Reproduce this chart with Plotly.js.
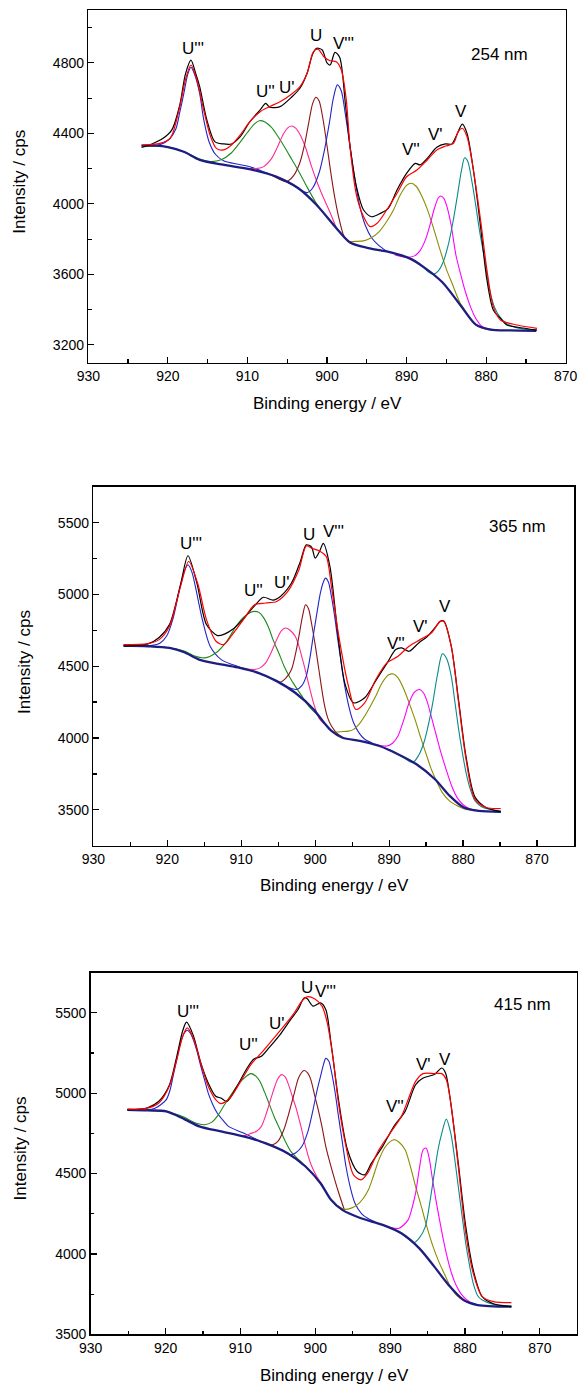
<!DOCTYPE html>
<html><head><meta charset="utf-8">
<script src="https://cdn.plot.ly/plotly-3.0.1.min.js"></script>
<style>html,body{margin:0;padding:0;background:#fff}</style>
</head><body><div id="chart" style="width:578px;height:1386px"></div>
<script>
// ---------- shared ----------
const peakNames = ["U'''", "U''", "U'", "U", "V'''", "V''", "V'", "V"];
const sampleNames = ["254 nm", "365 nm", "415 nm"];
const xTickVals = [930, 920, 910, 900, 890, 880, 870];

// ---------- 254 nm ----------
const e254_bg = [923.3, 921.5, 920, 918, 916, 913.3, 909.6, 906.4, 903.6, 901.3, 899, 897.1, 894.8, 892.5, 889.7, 887.8, 885.5, 883.2, 881.3, 879.5, 877, 873.7];
const i254_bg = [4330, 4330, 4322, 4296, 4250, 4224, 4196, 4155, 4089, 3994, 3872, 3781, 3749, 3730, 3692, 3640, 3555, 3423, 3315, 3287, 3282, 3280];
const e254_U3 = [923.3, 921.0, 919.8, 919.0, 918.5, 918.0, 917.5, 917.1, 916.6, 916.0, 915.5, 914.8, 914.0, 913.0, 911.8, 909.7, 907.6, 905.0, 903.5];
const i254_U3 = [4330, 4336, 4368, 4425, 4520, 4625, 4735, 4775, 4730, 4625, 4480, 4350, 4280, 4245, 4230, 4211, 4175, 4122, 4086];
const e254_U2 = [923.3, 920, 918, 916, 914.6, 913.3, 912.0, 911.0, 910.0, 909.2, 908.5, 907.8, 907.0, 906.2, 905.3, 904.4, 903.5, 902.5, 901.5, 901.0];
const i254_U2 = [4328, 4322, 4296, 4254, 4240, 4250, 4290, 4345, 4405, 4450, 4472, 4465, 4435, 4385, 4320, 4250, 4180, 4095, 4015, 3982];
const e254_U1 = [910.5, 909.0, 908.0, 907.0, 906.2, 905.5, 904.9, 904.4, 903.9, 903.3, 902.7, 902.0, 901.3, 900.5, 899.6, 898.8];
const i254_U1 = [4205, 4200, 4210, 4255, 4325, 4395, 4433, 4442, 4428, 4385, 4320, 4220, 4130, 4040, 3950, 3860];
const e254_U0 = [907.0, 906.0, 905.1, 904.2, 903.4, 902.8, 902.3, 901.8, 901.4, 901.0, 900.5, 900.0, 899.5, 899.0, 898.4, 897.8, 897.1];
const i254_U0 = [4165, 4140, 4126, 4160, 4235, 4340, 4460, 4570, 4605, 4585, 4480, 4330, 4170, 4030, 3900, 3810, 3781];
const e254_V3 = [905.0, 904.0, 903.2, 902.5, 901.8, 901.0, 900.3, 899.7, 899.2, 898.7, 898.2, 897.7, 897.1, 896.5, 895.9, 895.2, 894.4, 893.5, 892.5];
const i254_V3 = [4122, 4100, 4075, 4064, 4090, 4175, 4310, 4460, 4600, 4675, 4640, 4510, 4325, 4140, 3990, 3880, 3808, 3765, 3732];
const e254_V2 = [897.3, 896.4, 895.4, 894.5, 893.5, 892.5, 891.6, 890.8, 890.0, 889.4, 888.8, 888.2, 887.4, 886.6, 885.8, 885.0, 884.2, 883.3, 882.5, 881.5, 880.5, 879.5];
const i254_V2 = [3785, 3787, 3790, 3806, 3840, 3900, 3970, 4050, 4105, 4117, 4100, 4055, 3970, 3860, 3740, 3630, 3540, 3440, 3385, 3322, 3295, 3288];
const e254_V1 = [891.5, 890.0, 889.0, 888.3, 887.6, 887.0, 886.5, 886.0, 885.7, 885.3, 884.9, 884.4, 883.8, 883.2, 882.6, 882.0, 881.3, 880.5, 879.5, 878.5];
const i254_V1 = [3712, 3697, 3705, 3735, 3800, 3890, 3975, 4035, 4045, 4030, 3980, 3880, 3710, 3600, 3500, 3420, 3350, 3305, 3290, 3285];
const e254_V0 = [890.5, 889.0, 888.0, 887.2, 886.6, 886.0, 885.4, 884.8, 884.2, 883.6, 883.1, 882.7, 882.3, 881.8, 881.3, 880.8, 880.2, 879.6, 879.0, 878.3, 877.4, 876.2, 874.5];
const i254_V0 = [3705, 3680, 3645, 3612, 3602, 3620, 3670, 3760, 3890, 4050, 4190, 4262, 4240, 4130, 3990, 3840, 3690, 3520, 3420, 3360, 3320, 3298, 3286];
const e254_fit = [923.3, 921.0, 919.7, 918.5, 917.8, 917.1, 916.4, 915.5, 914.7, 913.9, 913.0, 912.0, 910.9, 909.7, 908.4, 907.2, 905.9, 904.6, 903.4, 902.5, 901.7, 901.1, 900.4, 899.6, 898.8, 898.2, 897.6, 897.1, 896.3, 895.4, 894.6, 893.7, 892.5, 891.2, 890.0, 888.7, 887.4, 886.2, 885.1, 884.1, 883.5, 883.0, 882.4, 881.6, 880.7, 879.9, 879.1, 878.2, 876.1, 873.6];
const i254_fit = [4334, 4343, 4372, 4552, 4703, 4788, 4712, 4533, 4391, 4315, 4306, 4334, 4391, 4466, 4523, 4552, 4580, 4618, 4665, 4741, 4864, 4877, 4835, 4812, 4805, 4760, 4600, 4320, 4050, 3927, 3871, 3890, 3965, 4060, 4154, 4192, 4249, 4306, 4328, 4343, 4410, 4429, 4381, 4192, 3908, 3625, 3417, 3341, 3313, 3294];
const e254_exp = [923.3, 922.0, 920.6, 919.5, 918.5, 917.8, 917.1, 916.5, 916.0, 915.1, 914.1, 913.0, 912.0, 910.9, 909.7, 908.4, 907.7, 907.2, 905.9, 904.4, 903.4, 902.5, 901.8, 901.3, 900.6, 900.0, 899.6, 899.0, 898.4, 897.7, 897.1, 896.3, 895.4, 894.4, 893.3, 892.3, 891.2, 890.0, 888.9, 888.3, 887.4, 886.2, 885.1, 884.3, 883.7, 883.0, 882.4, 881.6, 880.7, 879.9, 879.1, 878.2, 877.4, 876.0, 873.6];
const i254_exp = [4320, 4340, 4372, 4420, 4561, 4735, 4816, 4740, 4665, 4476, 4353, 4340, 4340, 4381, 4466, 4533, 4570, 4548, 4552, 4608, 4656, 4741, 4850, 4883, 4873, 4800, 4788, 4860, 4830, 4571, 4325, 4098, 3965, 3927, 3946, 3975, 4079, 4173, 4230, 4221, 4258, 4321, 4340, 4340, 4391, 4453, 4400, 4192, 3871, 3568, 3398, 3350, 3313, 3300, 3284];
const e254_lab = [916.9, 907.7, 905.0, 901.4, 897.9, 889.5, 886.35, 883.2];
const i254_lab = [4881, 4636, 4660, 4957, 4909, 4309, 4396, 4523];

// ---------- 365 nm ----------
const e365_bg = [925.9, 922.6, 919.7, 917.7, 915.7, 912.7, 910.2, 907.7, 905.2, 902.7, 900.2, 898.8, 897.8, 896.3, 893.8, 891.3, 888.8, 886.3, 883.8, 881.8, 879.9, 877.9, 874.9];
const i365_bg = [4644, 4639, 4627, 4597, 4546, 4512, 4488, 4454, 4396, 4315, 4199, 4106, 4049, 4002, 3979, 3944, 3887, 3817, 3713, 3597, 3516, 3493, 3486];
const e365_U3 = [925.9, 922.0, 921.0, 920.1, 919.2, 918.7, 918.2, 917.7, 917.2, 916.7, 916.2, 915.7, 915.2, 914.2, 912.7, 911.0, 909.5, 907.5];
const i365_U3 = [4644, 4645, 4660, 4708, 4835, 4950, 5067, 5160, 5206, 5160, 5056, 4930, 4813, 4639, 4546, 4508, 4482, 4450];
const e365_U2 = [925.9, 920, 917.7, 916.5, 914.9, 913.5, 912.0, 910.7, 909.7, 908.7, 908.2, 907.6, 907.0, 906.3, 905.7, 904.9, 904.2, 903.4, 902.7, 901.9, 901.2, 900.4, 899.6];
const i365_U2 = [4642, 4630, 4605, 4575, 4558, 4590, 4670, 4778, 4840, 4875, 4882, 4875, 4840, 4770, 4685, 4590, 4500, 4420, 4361, 4300, 4245, 4195, 4155];
const e365_U1 = [909.5, 908.2, 907.4, 906.7, 906.0, 905.2, 904.6, 904.0, 903.4, 902.7, 902.2, 901.7, 901.2, 900.7, 900.2, 899.5, 898.8];
const i365_U1 = [4482, 4477, 4490, 4523, 4590, 4685, 4745, 4766, 4750, 4708, 4640, 4546, 4445, 4338, 4240, 4140, 4100];
const e365_U0 = [906.5, 905.5, 904.7, 904.0, 903.2, 902.6, 902.2, 901.7, 901.3, 900.9, 900.5, 900.0, 899.5, 898.8, 898.3, 897.8, 897.0, 896.3];
const i365_U0 = [4425, 4405, 4389, 4415, 4477, 4600, 4708, 4850, 4928, 4900, 4801, 4650, 4477, 4245, 4140, 4083, 4030, 4005];
const e365_V3 = [904.5, 903.5, 902.5, 901.8, 901.2, 900.7, 900.2, 899.7, 899.3, 898.9, 898.6, 898.2, 897.8, 897.4, 897.0, 896.5, 896.0, 895.4, 894.8, 894.0, 893.3, 892.3];
const i365_V3 = [4380, 4350, 4338, 4365, 4431, 4560, 4731, 4890, 5009, 5085, 5113, 5085, 4986, 4860, 4708, 4530, 4361, 4210, 4106, 4030, 3991, 3965];
const e365_V2 = [897.5, 896.5, 895.5, 894.8, 894.0, 893.3, 892.5, 891.8, 891.0, 890.0, 889.4, 888.8, 888.0, 887.3, 886.5, 885.8, 885.0, 884.3, 883.5, 882.8, 881.8, 880.8, 879.8, 878.5];
const i365_V2 = [4040, 4044, 4048, 4060, 4100, 4153, 4225, 4292, 4380, 4442, 4445, 4419, 4340, 4245, 4130, 4014, 3890, 3783, 3690, 3620, 3560, 3528, 3505, 3493];
const e365_V1 = [891.8, 890.3, 889.5, 888.8, 888.0, 887.3, 886.6, 885.9, 885.3, 884.8, 884.2, 883.6, 883.0, 882.3, 881.5, 880.8, 880.0, 879.0, 878.0];
const i365_V1 = [3955, 3944, 3965, 4014, 4130, 4245, 4318, 4338, 4310, 4245, 4130, 4014, 3900, 3782, 3660, 3585, 3535, 3505, 3494];
const e365_V0 = [890.0, 888.8, 887.8, 886.8, 886.0, 885.3, 884.7, 884.1, 883.5, 882.8, 882.2, 881.6, 881.1, 880.6, 880.1, 879.6, 879.0, 878.4, 877.6, 876.9, 875.5, 874.9];
const i365_V0 = [3922, 3887, 3855, 3829, 3880, 3967, 4090, 4245, 4430, 4586, 4550, 4431, 4250, 4060, 3900, 3759, 3640, 3563, 3525, 3509, 3495, 3493];
const e365_fit = [925.9, 922.6, 921.1, 919.7, 918.2, 917.1, 915.9, 914.7, 913.4, 912.4, 911.2, 909.7, 908.2, 906.7, 905.2, 903.7, 902.2, 901.2, 900.5, 899.3, 898.5, 897.8, 896.8, 895.5, 894.5, 893.3, 891.8, 890.3, 888.8, 887.3, 885.8, 884.3, 883.1, 882.6, 881.6, 880.6, 879.6, 878.4, 876.9, 874.9];
const i365_fit = [4650, 4657, 4685, 4778, 5056, 5229, 5079, 4824, 4674, 4650, 4720, 4824, 4928, 4940, 4951, 5021, 5171, 5338, 5322, 5299, 5264, 5056, 4708, 4361, 4199, 4245, 4407, 4523, 4569, 4639, 4685, 4731, 4812, 4812, 4639, 4245, 3852, 3574, 3516, 3509];
const e365_exp = [925.9, 922.6, 921.1, 919.7, 918.2, 917.2, 916.0, 914.7, 913.2, 912.2, 911.2, 909.7, 908.2, 907.0, 905.7, 904.7, 903.2, 902.0, 901.2, 900.5, 900.0, 899.4, 898.9, 898.0, 897.0, 896.0, 894.8, 893.3, 891.8, 890.3, 889.1, 888.3, 887.3, 886.0, 884.8, 883.6, 883.1, 882.6, 881.6, 880.6, 879.6, 878.4, 876.9, 874.9];
const i365_exp = [4640, 4655, 4700, 4790, 5070, 5269, 5080, 4790, 4713, 4725, 4755, 4830, 4920, 4980, 4960, 4986, 5079, 5230, 5345, 5330, 5252, 5300, 5356, 5194, 4755, 4384, 4245, 4280, 4400, 4520, 4616, 4627, 4604, 4662, 4708, 4780, 4812, 4815, 4639, 4260, 3870, 3590, 3516, 3486];
const e365_lab = [916.8, 908.3, 904.5, 900.9, 897.5, 889.1, 885.8, 882.4];
const i365_lab = [5352, 5028, 5086, 5414, 5437, 4657, 4778, 4917];

// ---------- 415 nm ----------
const e415_bg = [925.1, 922.4, 919.9, 917.5, 915.5, 912.6, 909.6, 906.7, 903.7, 901.3, 899.3, 897.9, 896.4, 893.9, 891.0, 888.5, 886.1, 884.1, 882.2, 880.2, 878.3, 873.8];
const i415_bg = [4897, 4893, 4887, 4839, 4794, 4762, 4731, 4690, 4627, 4544, 4440, 4337, 4274, 4222, 4181, 4129, 4035, 3921, 3807, 3713, 3682, 3672];
const e415_U3 = [925.1, 922.5, 921.4, 920.6, 919.9, 919.4, 919.0, 918.5, 918.0, 917.5, 917.1, 916.7, 916.3, 915.8, 915.3, 914.8, 914.3, 913.7, 913.1, 912.3, 911.6, 909.6, 907.5];
const i415_U3 = [4897, 4897, 4907, 4930, 4960, 5020, 5105, 5210, 5313, 5375, 5392, 5375, 5334, 5260, 5168, 5085, 5001, 4930, 4877, 4830, 4794, 4752, 4705];
const e415_U2 = [925.1, 920, 917.5, 916, 914.8, 913.8, 913.1, 912.1, 911.1, 910.3, 909.6, 908.6, 907.9, 907.4, 906.8, 906.2, 905.5, 904.7, 904.0, 903.3, 902.5, 901.8, 901.0, 900.2];
const i415_U2 = [4897, 4887, 4850, 4815, 4804, 4820, 4856, 4930, 5001, 5055, 5090, 5122, 5105, 5074, 5010, 4939, 4855, 4773, 4700, 4640, 4600, 4568, 4530, 4488];
const e415_U1 = [909.6, 908.7, 907.8, 907.2, 906.5, 905.7, 905.0, 904.5, 904.0, 903.5, 903.0, 902.5, 901.9, 901.3, 900.6, 899.8, 899.0];
const i415_U1 = [4733, 4748, 4765, 4794, 4880, 5001, 5090, 5116, 5100, 5043, 4970, 4897, 4790, 4669, 4560, 4482, 4425];
const e415_U0 = [907.5, 906.5, 905.7, 905.0, 904.2, 903.5, 902.8, 902.2, 901.5, 901.0, 900.6, 900.1, 899.6, 899.1, 898.6, 898.0, 897.4, 896.8, 896.1];
const i415_U0 = [4700, 4688, 4679, 4700, 4773, 4880, 5001, 5100, 5141, 5125, 5085, 4990, 4897, 4790, 4669, 4560, 4461, 4370, 4272];
const e415_V3 = [904.5, 903.8, 903.3, 902.6, 901.8, 901.0, 900.3, 899.8, 899.3, 898.9, 898.6, 898.2, 897.9, 897.4, 896.9, 896.4, 895.9, 895.3, 894.7, 893.8, 893.0, 892.0];
const i415_V3 = [4650, 4627, 4617, 4630, 4669, 4760, 4897, 5010, 5105, 5180, 5217, 5200, 5147, 5020, 4856, 4700, 4544, 4410, 4316, 4250, 4222, 4200];
const e415_V2 = [897.0, 896.1, 895.2, 894.4, 893.6, 892.9, 892.2, 891.5, 890.6, 889.5, 888.8, 888.0, 887.3, 886.6, 885.8, 885.1, 884.3, 883.6, 882.7, 881.7, 880.7, 879.7, 878.5];
const i415_V2 = [4300, 4278, 4285, 4305, 4345, 4399, 4490, 4586, 4670, 4711, 4695, 4648, 4545, 4420, 4290, 4170, 4050, 3963, 3870, 3776, 3725, 3703, 3685];
const e415_V1 = [891.0, 890.0, 888.8, 887.6, 887.0, 886.6, 886.1, 885.6, 885.2, 884.8, 884.4, 883.9, 883.4, 882.9, 882.4, 881.8, 881.2, 880.5, 879.7, 878.8];
const i415_V1 = [4181, 4165, 4160, 4212, 4300, 4378, 4530, 4648, 4659, 4600, 4482, 4340, 4212, 4090, 3983, 3880, 3807, 3750, 3713, 3688];
const e415_V0 = [889.5, 888.5, 887.6, 886.8, 886.1, 885.3, 884.7, 884.1, 883.6, 883.1, 882.5, 881.9, 881.4, 880.9, 880.4, 879.9, 879.4, 878.9, 878.3, 877.7, 876.2, 873.8];
const i415_V0 = [4150, 4125, 4095, 4071, 4100, 4170, 4320, 4503, 4650, 4752, 4839, 4752, 4600, 4420, 4240, 4066, 3930, 3817, 3740, 3713, 3686, 3676];
const e415_fit = [925.1, 922.4, 920.9, 919.5, 918.5, 917.7, 917.1, 916.3, 915.3, 914.3, 913.3, 912.6, 911.4, 910.1, 908.6, 907.2, 905.7, 904.2, 902.8, 901.8, 901.1, 900.1, 899.1, 898.4, 897.6, 896.9, 895.9, 894.9, 893.9, 893.0, 891.5, 890.0, 888.5, 887.6, 886.6, 885.6, 884.1, 883.1, 882.5, 881.9, 880.9, 879.9, 878.9, 877.7, 876.2, 873.8];
const i415_fit = [4901, 4907, 4939, 5043, 5209, 5355, 5407, 5344, 5188, 5043, 4960, 4935, 4970, 5063, 5178, 5251, 5334, 5417, 5500, 5573, 5600, 5588, 5542, 5438, 5209, 4939, 4669, 4492, 4461, 4503, 4648, 4752, 4856, 4960, 5074, 5122, 5122, 5122, 5084, 4939, 4544, 4129, 3880, 3734, 3703, 3697];
const e415_exp = [925.1, 922.4, 920.9, 919.5, 918.5, 917.7, 917.2, 916.3, 915.3, 914.3, 913.3, 912.6, 911.8, 910.6, 909.1, 908.2, 907.2, 906.2, 904.7, 903.3, 902.3, 901.5, 901.1, 900.3, 899.3, 898.6, 897.9, 896.9, 895.7, 894.4, 893.4, 892.5, 891.0, 889.5, 888.0, 886.6, 885.6, 884.1, 883.1, 882.6, 881.9, 880.9, 879.9, 878.9, 877.7, 876.2, 873.8];
const i415_exp = [4897, 4910, 4950, 5050, 5230, 5390, 5442, 5360, 5190, 5064, 4981, 4970, 4949, 5032, 5157, 5213, 5230, 5282, 5365, 5458, 5521, 5593, 5589, 5542, 5562, 5521, 5313, 4960, 4648, 4513, 4492, 4565, 4669, 4794, 4887, 5053, 5095, 5116, 5157, 5126, 4939, 4565, 4170, 3900, 3734, 3690, 3672];
const e415_lab = [917.0, 908.9, 905.1, 901.1, 898.6, 889.4, 885.6, 882.65];
const i415_lab = [5510, 5303, 5431, 5656, 5631, 4918, 5178, 5213];

// ---------- drawing ----------
const W = 578, H = 1386;
const FONT = 'Liberation Sans, Arial, Helvetica, sans-serif';
const compColors = ['#2323c8', '#1c8a1c', '#ff2a95', '#8a1414', '#2323c8', '#8c8c00', '#ff00ff', '#0a8a8a'];

const panels = [
  { comps: [[e254_U3,i254_U3],[e254_U2,i254_U2],[e254_U1,i254_U1],[e254_U0,i254_U0],[e254_V3,i254_V3],[e254_V2,i254_V2],[e254_V1,i254_V1],[e254_V0,i254_V0]],
    bg: [e254_bg, i254_bg], fit: [e254_fit, i254_fit], exp: [e254_exp, i254_exp], lab: [e254_lab, i254_lab],
    px: [88.3, 565.7], py: [10, 362.5], xr: [930, 870], yr: [3100, 5100], dy: 400, y0: 3200,
    sample: [878.3, 4847], xt: [327, 403], yt: [19.7, 182] },
  { comps: [[e365_U3,i365_U3],[e365_U2,i365_U2],[e365_U1,i365_U1],[e365_U0,i365_U0],[e365_V3,i365_V3],[e365_V2,i365_V2],[e365_V1,i365_V1],[e365_V0,i365_V0]],
    bg: [e365_bg, i365_bg], fit: [e365_fit, i365_fit], exp: [e365_exp, i365_exp], lab: [e365_lab, i365_lab],
    px: [93.3, 574], py: [486.7, 845.7], xr: [930, 865], yr: [3250, 5750], dy: 500, y0: 3500,
    sample: [872.6, 5472], xt: [334, 885], yt: [24, 662] },
  { comps: [[e415_U3,i415_U3],[e415_U2,i415_U2],[e415_U1,i415_U1],[e415_U0,i415_U0],[e415_V3,i415_V3],[e415_V2,i415_V2],[e415_V1,i415_V1],[e415_V0,i415_V0]],
    bg: [e415_bg, i415_bg], fit: [e415_fit, i415_fit], exp: [e415_exp, i415_exp], lab: [e415_lab, i415_lab],
    px: [90.7, 577.3], py: [972.7, 1334.3], xr: [930, 865], yr: [3500, 5750], dy: 500, y0: 3500,
    sample: [872.35, 5552], xt: [334, 1375], yt: [20.4, 1148] }
];

const traces = [];
const layout = {
  width: W, height: H, margin: {l: 0, r: 0, t: 0, b: 0},
  paper_bgcolor: '#fff', plot_bgcolor: '#fff', showlegend: false,
  font: {family: FONT, color: '#000'}, annotations: []
};

function ln(xs, ys, color, width, k) {
  return { x: xs, y: ys, type: 'scatter', mode: 'lines', xaxis: 'x' + (k ? k + 1 : ''), yaxis: 'y' + (k ? k + 1 : ''),
    line: {color: color, width: width, shape: 'spline', smoothing: 0.8}, hoverinfo: 'skip' };
}

panels.forEach((p, k) => {
  p.comps.forEach((c, j) => traces.push(ln(c[0], c[1], compColors[j], 1.1, k)));
  traces.push(ln(p.bg[0], p.bg[1], '#1e1e82', 2.3, k));
  traces.push(ln(p.exp[0], p.exp[1], '#000000', 1.2, k));
  traces.push(ln(p.fit[0], p.fit[1], '#ff0000', 1.2, k));

  const sx = k ? String(k + 1) : '';
  const ax = {
    showline: true, mirror: true, linecolor: '#000', linewidth: 1.5,
    ticks: 'inside', ticklen: 6, tickwidth: 1.2, tickcolor: '#000',
    showgrid: false, zeroline: false, fixedrange: true,
    tickfont: {family: FONT, size: 14, color: '#000'}
  };
  layout['xaxis' + sx] = Object.assign({}, ax, {
    domain: [p.px[0] / W, p.px[1] / W], range: p.xr, autorange: false,
    anchor: 'y' + sx, tickmode: 'array', tickvals: xTickVals,
    minor: {dtick: 5, tick0: 870, ticks: 'inside', ticklen: 3.5, tickwidth: 1.2, tickcolor: '#000', showgrid: false}
  });
  layout['yaxis' + sx] = Object.assign({}, ax, {
    domain: [1 - p.py[1] / H, 1 - p.py[0] / H], range: p.yr, autorange: false,
    anchor: 'x' + sx, tick0: p.y0, dtick: p.dy,
    minor: {dtick: p.dy / 2, tick0: p.y0, ticks: 'inside', ticklen: 3.5, tickwidth: 1.2, tickcolor: '#000', showgrid: false}
  });

  p.lab[0].forEach((e, j) => layout.annotations.push({
    x: e, y: p.lab[1][j], xref: 'x' + sx, yref: 'y' + sx, text: peakNames[j], showarrow: false,
    font: {family: FONT, size: 17, color: '#000'}, xanchor: 'center', yanchor: 'middle'
  }));
  layout.annotations.push({
    x: p.sample[0], y: p.sample[1], xref: 'x' + sx, yref: 'y' + sx, text: sampleNames[k], showarrow: false,
    font: {family: FONT, size: 17, color: '#000'}, xanchor: 'center', yanchor: 'middle'
  });
  layout.annotations.push({
    x: p.xt[0] / W, y: 1 - p.xt[1] / H, xref: 'paper', yref: 'paper', text: 'Binding energy / eV', showarrow: false,
    font: {family: FONT, size: 17, color: '#000'}, xanchor: 'center', yanchor: 'middle'
  });
  layout.annotations.push({
    x: p.yt[0] / W, y: 1 - p.yt[1] / H, xref: 'paper', yref: 'paper', text: 'Intensity / cps', showarrow: false,
    textangle: -90, font: {family: FONT, size: 17, color: '#000'}, xanchor: 'center', yanchor: 'middle'
  });
});

Plotly.newPlot('chart', traces, layout, {staticPlot: true, displayModeBar: false});
</script></body></html>
